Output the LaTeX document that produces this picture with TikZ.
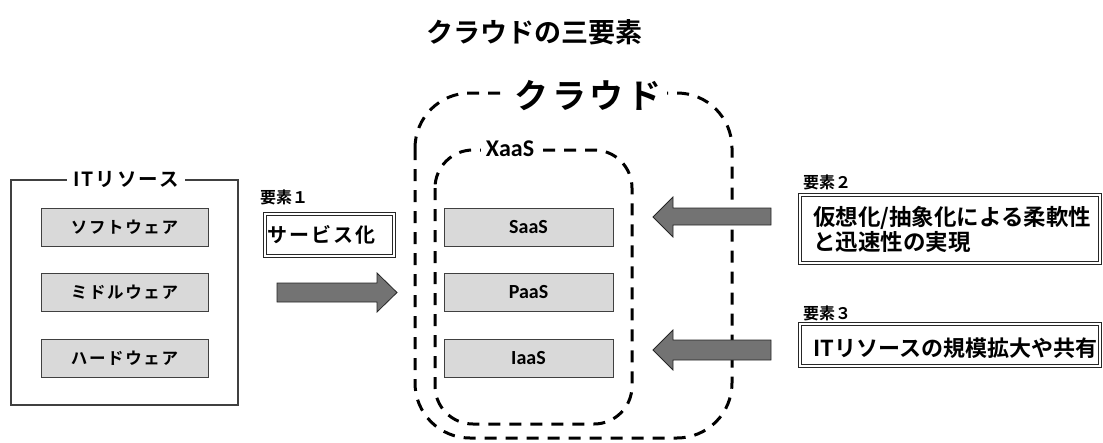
\documentclass[tikz,border=0pt]{standalone}
\usepackage{fontspec}
\newfontfamily\jpfont{Noto Sans CJK JP Bold}
\newfontfamily\jpsp{Noto Sans CJK JP Bold}[LetterSpace=10]
\newfontfamily\latfont{Carlito}[BoldFont={Carlito Bold}]
\usetikzlibrary{positioning}
\begin{document}
\begin{tikzpicture}[x=1pt,y=-1pt,
  graybox/.style={draw=black!75, fill=black!15, line width=0.9pt, minimum width=167pt, minimum height=38pt, inner sep=0pt},
  jpbox/.style={graybox, font=\jpsp\fontsize{16.5}{18}\selectfont},
  ltbox/.style={graybox, minimum width=169pt, font=\latfont\bfseries\fontsize{20}{22}\selectfont},
  cloudline/.style={draw=black, line width=3pt, dash pattern=on 12pt off 9pt},
  blockarrow/.style={fill=black!55, draw=black!85, line width=0.8pt},
  dblbox/.style={draw=black!85, double=white, double distance=2pt, line width=1pt},
  lbl/.style={font=\jpfont\fontsize{16}{18}\selectfont, anchor=west, inner sep=0pt},
  whitelbl/.style={fill=white, inner sep=3pt}
]
\useasboundingbox (0,0) rectangle (1103,442);

% title
\node[font=\jpfont\fontsize{27}{29}\selectfont] (title) at (534,32) {クラウドの三要素};

% IT resource box
\draw[draw=black!75, line width=1.1pt] (11,180) rectangle (238,405);
\node[whitelbl, inner xsep=6pt, font=\jpsp\fontsize{19.5}{21}\selectfont] (itlbl) at (126,179) {ITリソース};
\node[jpbox] (soft) at (124.5,227) {ソフトウェア};
\node[jpbox] (mid) at (124.5,292.5) {ミドルウェア};
\node[jpbox] (hard) at (124.5,358.5) {ハードウェア};

% element 1
\node[lbl] (e1) at (260,197) {要素１};
\draw[dblbox] (265,214) rectangle (394,256);
\node[font=\jpsp\fontsize{20}{22}\selectfont] (svc) at (321,235) {サービス化};
\draw[blockarrow] (277,283) -- (377,283) -- (377,273) -- (397,292.5) -- (377,312) -- (377,302) -- (277,302) -- cycle;

% cloud frames
\draw[cloudline] (415,93) [rounded corners=55pt] rectangle (732,438);
\node[whitelbl, inner xsep=6pt, font=\jpsp\fontsize{34}{36}\selectfont] (cloud) at (588,96) {クラウド};
\draw[cloudline] (435,150) [rounded corners=38pt] rectangle (632,424);
\node[whitelbl, inner xsep=5pt, font=\latfont\bfseries\fontsize{24}{26}\selectfont] (xaas) at (510,149) {XaaS};

\node[ltbox] (saas) at (528.5,227) {SaaS};
\node[ltbox] (paas) at (528.5,292.5) {PaaS};
\node[ltbox] (iaas) at (528.5,358.5) {IaaS};

% arrows 2,3
\draw[blockarrow] (771,208) -- (673,208) -- (673,197) -- (653,217) -- (673,237) -- (673,225) -- (771,225) -- cycle;
\draw[blockarrow] (771,340) -- (673,340) -- (673,330) -- (653,350) -- (673,370) -- (673,360) -- (771,360) -- cycle;

% element 2
\node[lbl] (e2) at (803,182) {要素２};
\draw[dblbox] (800,195) rectangle (1100,263);
\node[font=\jpfont\fontsize{22.5}{23}\selectfont, align=left, anchor=west, inner sep=0pt] (flex) at (813,229.5) {仮想化/抽象化による柔軟性\\と迅速性の実現};

% element 3
\node[lbl] (e3) at (803,313) {要素３};
\draw[dblbox] (800,324) rectangle (1100,366);
\node[font=\jpfont\fontsize{22}{23}\selectfont, anchor=west, inner sep=0pt] (scale) at (813,348) {ITリソースの規模拡大や共有};
\end{tikzpicture}
\end{document}
